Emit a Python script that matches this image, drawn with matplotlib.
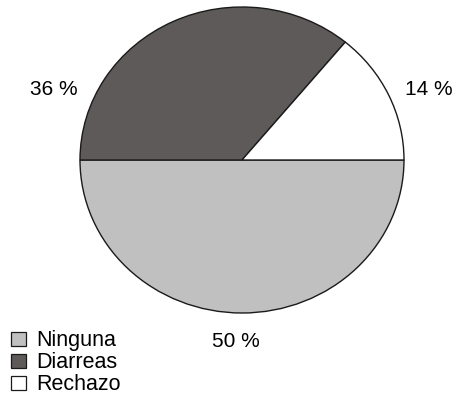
import matplotlib
matplotlib.use("Agg")
import matplotlib.pyplot as plt
from matplotlib.patches import Rectangle

categories = ["Ninguna", "Diarreas", "Rechazo"]
values = [50, 36, 14]
colors = ["#c0c0c0", "#5f5a5a", "#ffffff"]

plt.rcParams['font.family'] = ['Liberation Sans', 'DejaVu Sans']

W, H = 455, 401
fig = plt.figure(figsize=(W / 100, H / 100), dpi=100)
# pie drawn into a slightly flattened box (ellipse)
ax = fig.add_axes([80 / W, (H - 313) / H, 324 / W, 306 / H])
ax.pie(values, colors=colors, startangle=0, counterclock=False,
       wedgeprops=dict(edgecolor="#1a1a1a", linewidth=1.0))
ax.set_aspect('auto')
ax.set_xlim(-1.0, 1.0)
ax.set_ylim(-1.0, 1.0)
ax.axis('off')

# percentage labels (x centre, baseline y in pixels)
label_pos = {"Ninguna": (236, 347), "Diarreas": (54, 95), "Rechazo": (429, 95)}
for cat, v in zip(categories, values):
    x, y = label_pos[cat]
    fig.text(x / W, 1 - y / H, f"{v} %", ha="center", va="baseline", fontsize=15)

# legend: square swatch + label per category
rows = [346, 368, 390]
for cat, c, base in zip(categories, colors, rows):
    fig.patches.append(Rectangle((11 / W, 1 - base / H), 15 / W, 14 / H,
                                 transform=fig.transFigure, facecolor=c,
                                 edgecolor="#1a1a1a", linewidth=0.9))
    fig.text(36 / W, 1 - base / H, cat, ha="left", va="baseline", fontsize=15.5)

fig.savefig("out.png", dpi=100)
